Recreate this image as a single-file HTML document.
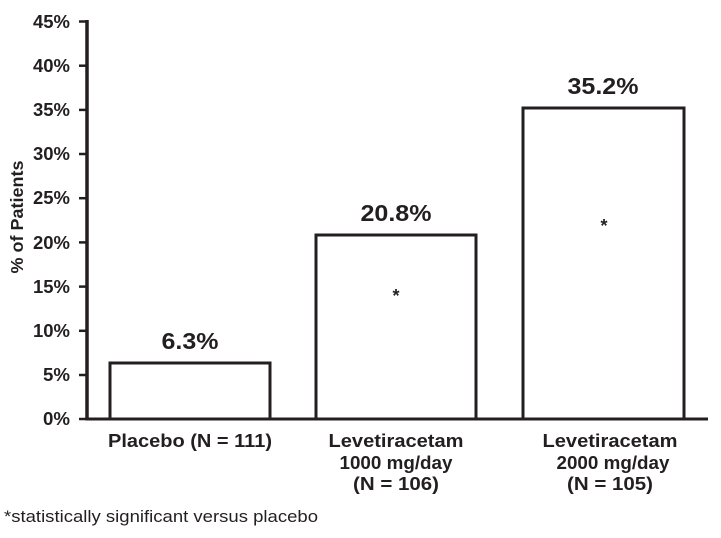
<!DOCTYPE html><html><head><style>body{margin:0;background:#fff}svg{display:block}text{font-family:"Liberation Sans",Arial,sans-serif;fill:#231f20}</style></head><body>
<svg width="721" height="538" viewBox="0 0 721 538">
<g font-weight="bold" font-size="18" text-anchor="end">
<text x="70" y="28" textLength="37" lengthAdjust="spacingAndGlyphs">45%</text><text x="70" y="72" textLength="37" lengthAdjust="spacingAndGlyphs">40%</text><text x="70" y="116" textLength="37" lengthAdjust="spacingAndGlyphs">35%</text><text x="70" y="160" textLength="37" lengthAdjust="spacingAndGlyphs">30%</text><text x="70" y="204" textLength="37" lengthAdjust="spacingAndGlyphs">25%</text><text x="70" y="249" textLength="37" lengthAdjust="spacingAndGlyphs">20%</text><text x="70" y="293" textLength="37" lengthAdjust="spacingAndGlyphs">15%</text><text x="70" y="337" textLength="37" lengthAdjust="spacingAndGlyphs">10%</text><text x="70" y="381" textLength="27" lengthAdjust="spacingAndGlyphs">5%</text><text x="70" y="425" textLength="27" lengthAdjust="spacingAndGlyphs">0%</text>
</g>
<text transform="translate(23,217) rotate(-90)" text-anchor="middle" font-weight="bold" font-size="17.5" textLength="113" lengthAdjust="spacingAndGlyphs">% of Patients</text>
<g stroke="#231f20" stroke-width="2.5">
<line x1="79" x2="87" y1="21.5" y2="21.5"/><line x1="79" x2="87" y1="65.7" y2="65.7"/><line x1="79" x2="87" y1="109.9" y2="109.9"/><line x1="79" x2="87" y1="154" y2="154"/><line x1="79" x2="87" y1="198.2" y2="198.2"/><line x1="79" x2="87" y1="242.4" y2="242.4"/><line x1="79" x2="87" y1="286.6" y2="286.6"/><line x1="79" x2="87" y1="330.8" y2="330.8"/><line x1="79" x2="87" y1="375" y2="375"/><line x1="79" x2="87" y1="419" y2="419"/>
</g>
<g fill="#fff" stroke="#231f20" stroke-width="3">
<rect x="110" y="363" width="160" height="56"/>
<rect x="316" y="235" width="160" height="184"/>
<rect x="523" y="108" width="161" height="311"/>
</g>
<line x1="87" y1="20" x2="87" y2="420.5" stroke="#231f20" stroke-width="3.5"/>
<line x1="86" y1="419" x2="708" y2="419" stroke="#231f20" stroke-width="3"/>
<g font-weight="bold" font-size="23" text-anchor="middle">
<text x="190" y="349" textLength="57" lengthAdjust="spacingAndGlyphs">6.3%</text><text x="396" y="221" textLength="71" lengthAdjust="spacingAndGlyphs">20.8%</text><text x="603" y="94" textLength="71" lengthAdjust="spacingAndGlyphs">35.2%</text>
</g>
<g font-weight="bold" font-size="18" text-anchor="middle">
<text x="396" y="302">*</text><text x="604" y="232">*</text>
</g>
<g font-weight="bold" font-size="18.5" text-anchor="middle">
<text x="190" y="447" textLength="164" lengthAdjust="spacingAndGlyphs">Placebo (N = 111)</text>
<text x="396" y="447" textLength="135" lengthAdjust="spacingAndGlyphs">Levetiracetam</text><text x="396" y="469" textLength="113" lengthAdjust="spacingAndGlyphs">1000 mg/day</text><text x="396" y="490" textLength="86" lengthAdjust="spacingAndGlyphs">(N = 106)</text>
<text x="610" y="447" textLength="135" lengthAdjust="spacingAndGlyphs">Levetiracetam</text><text x="613" y="469" textLength="113" lengthAdjust="spacingAndGlyphs">2000 mg/day</text><text x="610" y="490" textLength="86" lengthAdjust="spacingAndGlyphs">(N = 105)</text>
</g>
<text x="4" y="522" font-size="17" textLength="314" lengthAdjust="spacingAndGlyphs">*statistically significant versus placebo</text>
</svg></body></html>
